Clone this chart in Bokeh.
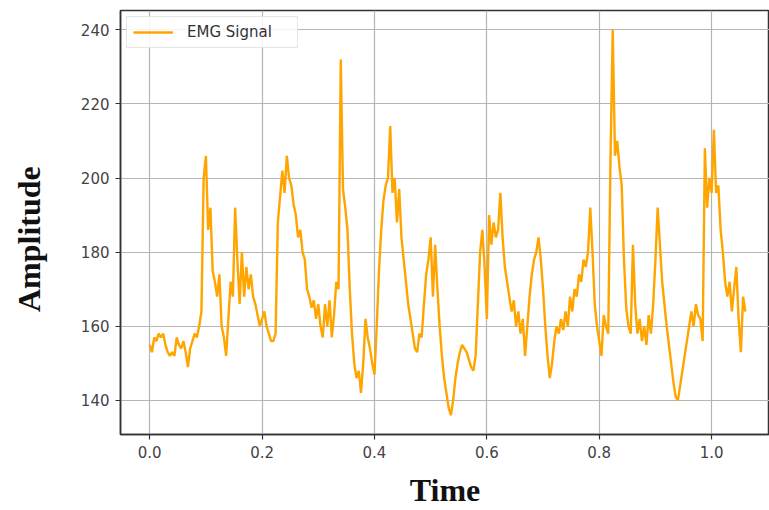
import math
import numpy as np
from bokeh.plotting import figure
from bokeh.layouts import row
from bokeh.models import (FixedTicker, PrintfTickFormatter, Range1d, Legend, LegendItem,
                          ColumnDataSource, Label)
from bokeh.embed import file_html
from bokeh.resources import INLINE

# ---- data ----
sample_step = 0.004
emg_values = [
    155, 153, 157, 156, 158, 157, 158, 155, 153, 152,
    153, 152, 157, 155, 154, 156, 153, 149, 154, 156,
    158, 157, 160, 164, 200, 206, 186, 192, 175, 172,
    168, 174, 160, 157, 152, 162, 172, 168, 192, 178,
    166, 180, 168, 176, 170, 174, 168, 166, 163, 160,
    162, 164, 160, 158, 156, 156, 158, 188, 195, 202,
    196, 206, 200, 198, 193, 190, 184, 186, 180, 178,
    170, 168, 165, 167, 162, 166, 160, 157, 166, 160,
    167, 157, 163, 172, 170, 232, 197, 192, 186, 170,
    158, 150, 146, 148, 142, 150, 162, 157, 154, 150,
    147, 160, 175, 186, 194, 198, 200, 214, 196, 200,
    188, 197, 184, 178, 172, 166, 162, 158, 154, 153,
    158, 157, 166, 174, 178, 184, 168, 182, 170, 160,
    152, 146, 142, 138, 136, 140, 146, 150, 153, 155,
    154, 153, 151, 149, 148, 152, 166, 180, 186, 176,
    162, 190, 182, 188, 184, 186, 196, 184, 176, 172,
    168, 164, 167, 160, 164, 158, 162, 152, 160, 168,
    174, 178, 180, 184, 178, 170, 160, 152, 146, 150,
    156, 160, 158, 162, 159, 164, 160, 168, 164, 170,
    168, 174, 172, 178, 176, 180, 192, 180, 166, 160,
    156, 152, 163, 160, 158, 205, 240, 206, 210, 203,
    198, 178, 165, 160, 158, 182, 166, 158, 162, 156,
    160, 155, 163, 158, 166, 178, 192, 182, 172, 166,
    160, 155, 150, 145, 141, 140, 144, 148, 152, 156,
    160, 164, 160, 166, 163, 162, 156, 208, 192, 200,
    196, 213, 196, 198, 186, 180, 172, 168, 172, 164,
    170, 176, 162, 153, 168, 164,
]
time_values = np.arange(len(emg_values)) * sample_step

x_ticks = [0.0, 0.2, 0.4, 0.6, 0.8, 1.0]
y_ticks = [140, 160, 180, 200, 220, 240]
x_label = "Time"
y_label = "Amplitude"
legend_label = "EMG Signal"

src = ColumnDataSource(data=dict(t=time_values, v=emg_values))

# narrow panel holding the rotated y-axis title
side = figure(width=60, height=510, output_backend="svg", toolbar_location=None,
              x_range=Range1d(0, 60), y_range=Range1d(0, 510),
              min_border_left=0, min_border_right=0, min_border_top=0, min_border_bottom=0)
side.axis.visible = False
side.grid.visible = False
side.outline_line_color = None
side.add_layout(Label(x=28, y=235, text=y_label, angle=math.pi / 2, text_align="center",
                      text_baseline="middle", text_font="Liberation Serif",
                      text_font_style="bold", text_font_size="32px", text_color="#111111"))

p = figure(width=709, height=510, output_backend="svg", toolbar_location=None,
           x_range=Range1d(-0.052, 1.103), y_range=Range1d(130.8, 245.2),
           min_border_left=60, min_border_right=0, min_border_top=10, min_border_bottom=76)

r = p.line("t", "v", source=src, line_color="#FFA500", line_width=2.4)

legend = Legend(items=[LegendItem(label=legend_label, renderers=[r])], location="top_left")
legend.margin = 6
legend.padding = 6
legend.spacing = 0
legend.label_text_font = "DejaVu Sans"
legend.label_text_font_size = "15px"
legend.label_text_color = "#333333"
legend.glyph_width = 40
legend.label_standoff = 14
legend.label_width = 104
legend.border_line_color = "#cccccc"
legend.border_line_width = 1
legend.background_fill_alpha = 0.85
legend.label_height = 18
legend.glyph_height = 18
p.add_layout(legend)

for ax, ticks, fmt in ((p.xaxis[0], x_ticks, "%.1f"), (p.yaxis[0], y_ticks, "%d")):
    ax.ticker = FixedTicker(ticks=ticks)
    ax.formatter = PrintfTickFormatter(format=fmt)
    ax.minor_tick_line_color = None
    ax.major_tick_in = 0
    ax.major_tick_out = 5
    ax.major_tick_line_color = "#333333"
    ax.major_tick_line_width = 1.2
    ax.axis_line_color = "#333333"
    ax.axis_line_width = 1.5
    ax.major_label_text_font = "DejaVu Sans"
    ax.major_label_text_font_size = "15px"
    ax.major_label_text_color = "#444444"
    ax.major_label_standoff = 6

p.xaxis.axis_label = x_label
p.xaxis.axis_label_standoff = 11
p.xaxis.axis_label_text_font = "Liberation Serif"
p.xaxis.axis_label_text_font_style = "bold"
p.xaxis.axis_label_text_font_size = "32px"
p.xaxis.axis_label_text_color = "#111111"

p.xgrid.ticker = FixedTicker(ticks=x_ticks)
p.ygrid.ticker = FixedTicker(ticks=y_ticks)
p.grid.grid_line_color = "#b5b5b5"
p.grid.grid_line_width = 1.2

p.outline_line_color = "#333333"
p.outline_line_width = 1.5
p.background_fill_color = "white"

layout = row(side, p, spacing=0)
open("out.html", "w").write(file_html(layout, INLINE))
